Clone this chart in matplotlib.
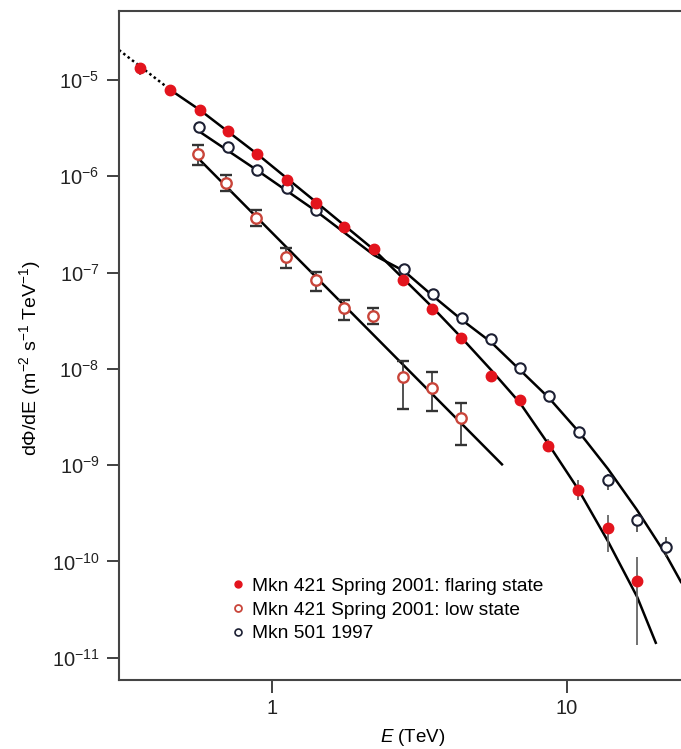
import matplotlib
matplotlib.use("Agg")
import matplotlib.pyplot as plt
from matplotlib.lines import Line2D

plt.rcParams['font.family'] = ['Liberation Sans', 'DejaVu Sans']
plt.rcParams['mathtext.fontset'] = 'custom'
plt.rcParams['mathtext.rm'] = 'Liberation Sans'
plt.rcParams['mathtext.it'] = 'Liberation Sans:italic'

# Mkn 421 flaring state (filled red)
flare_E = [0.357, 0.451, 0.570, 0.710, 0.89, 1.125, 1.41, 1.75, 2.22, 2.78, 3.49, 4.37, 5.52, 6.93, 8.62, 10.9, 13.8, 17.3]
flare_F = [1.33e-5, 7.9e-6, 4.9e-6, 2.95e-6, 1.7e-6, 9.1e-7, 5.3e-7, 2.96e-7, 1.77e-7, 8.3e-8, 4.2e-8, 2.1e-8,
           8.5e-9, 4.8e-9, 1.6e-9, 5.5e-10, 2.2e-10, 6.3e-11]
flare_lo = [1.13e-5, 0, 0, 0, 0, 0, 0, 0, 0, 0, 0, 0, 0, 0, 1.4e-9, 4.35e-10, 1.26e-10, 1.36e-11]
flare_hi = [1.50e-5, 0, 0, 0, 0, 0, 0, 0, 0, 0, 0, 0, 0, 0, 1.85e-9, 7.0e-10, 3.04e-10, 1.11e-10]

# Mkn 421 low state (open red)
low_E = [0.56, 0.70, 0.88, 1.115, 1.41, 1.75, 2.2, 2.78, 3.49, 4.37]
low_F = [1.71e-6, 8.5e-7, 3.69e-7, 1.45e-7, 8.4e-8, 4.29e-8, 3.54e-8, 8.24e-9, 6.34e-9, 3.09e-9]
low_lo = [1.31e-6, 7.03e-7, 3.05e-7, 1.12e-7, 6.44e-8, 3.22e-8, 2.92e-8, 3.84e-9, 3.66e-9, 1.62e-9]
low_hi = [2.11e-6, 1.03e-6, 4.47e-7, 1.80e-7, 1.01e-7, 5.19e-8, 4.29e-8, 1.21e-8, 9.29e-9, 4.43e-9]

# Mkn 501 1997 (open black)
m501_E = [0.566, 0.71, 0.89, 1.125, 1.41, 2.80, 3.51, 4.41, 5.52, 6.93, 8.66, 11.0, 13.8, 17.3, 21.7]
m501_F = [3.25e-6, 2.01e-6, 1.16e-6, 7.56e-7, 4.47e-7, 1.09e-7, 6.0e-8, 3.38e-8, 2.04e-8, 1.02e-8,
          5.23e-9, 2.21e-9, 7.0e-10, 2.7e-10, 1.42e-10]
m501_lo = [0, 0, 0, 0, 0, 0, 0, 0, 0, 0, 0, 0, 5.5e-10, 2.02e-10, 1.11e-10]
m501_hi = [0, 0, 0, 0, 0, 0, 0, 0, 0, 0, 0, 0, 8.1e-10, 3.11e-10, 1.80e-10]

# fitted spectra, points
flare_fit_dot_E = [0.303, 0.458]
flare_fit_dot_F = [2.05e-5, 7.7e-6]
flare_fit_E = [0.458, 0.570, 0.890, 1.41, 2.22, 3.49, 4.37, 5.53, 6.93, 8.69, 10.9, 13.8, 17.3, 20.0]
flare_fit_F = [7.7e-6, 4.88e-6, 1.71e-6, 5.41e-7, 1.72e-7, 4.40e-8, 2.14e-8, 9.75e-9, 4.43e-9, 1.62e-9,
               5.66e-10, 1.60e-10, 4.27e-11, 1.43e-11]
low_fit_E = [0.561, 6.02]
low_fit_F = [1.55e-6, 1.02e-9]
m501_fit_E = [0.557, 0.889, 1.41, 2.217, 2.802, 3.513, 4.407, 5.526, 6.929, 8.69, 10.98, 13.77, 17.27, 21.66, 24.35]
m501_fit_F = [3.03e-6, 1.16e-6, 4.36e-7, 1.52e-7, 1.04e-7, 5.72e-8, 3.22e-8, 1.90e-8, 9.75e-9, 4.99e-9,
              2.21e-9, 9.14e-10, 3.43e-10, 1.17e-10, 6.12e-11]

labels = ['Mkn 421 Spring 2001: flaring state', 'Mkn 421 Spring 2001: low state', 'Mkn 501 1997']

red = '#e3141d'
red_open = '#c9453a'
navy = '#1c1f33'


def err(F, lo, hi):
    down = [f - l if l > 0 else 0 for f, l in zip(F, lo)]
    up = [h - f if h > 0 else 0 for f, h in zip(F, hi)]
    return [down, up]


fig = plt.figure(figsize=(6.81, 7.49), dpi=100)
ax = fig.add_axes([0.1747, 0.0921, 0.8253, 0.8932])

# fit lines
ax.plot(flare_fit_dot_E, flare_fit_dot_F, color='black', lw=1.8, ls=(0, (1, 1.2)), zorder=2)
ax.plot(flare_fit_E, flare_fit_F, color='black', lw=1.8, zorder=2)
ax.plot(low_fit_E, low_fit_F, color='black', lw=1.8, zorder=2)
ax.plot(m501_fit_E, m501_fit_F, color='black', lw=1.8, zorder=2)

# data
ax.errorbar(low_E, low_F, yerr=err(low_F, low_lo, low_hi), fmt='o', ms=7.5, mfc='white', mec=red_open, mew=1.7,
            ecolor='#333333', elinewidth=1.2, capsize=4, capthick=1.2, zorder=3)
ax.errorbar(m501_E, m501_F, yerr=err(m501_F, m501_lo, m501_hi), fmt='o', ms=7.5, mfc='white', mec=navy, mew=1.5,
            ecolor='#444444', elinewidth=1.2, capsize=0, zorder=3)
ax.errorbar(flare_E, flare_F, yerr=err(flare_F, flare_lo, flare_hi), fmt='o', ms=7.5, mfc=red, mec=red, mew=1,
            ecolor='#666666', elinewidth=1.3, capsize=0, zorder=4)

ax.set_xscale('log')
ax.set_yscale('log')
ax.set_xlim(0.303, 24.35)
ax.set_ylim(5.87e-12, 5.21e-5)

ax.set_xticks([1, 10])
ax.set_xticklabels(['1', '10'])
ax.set_yticks([1e-5, 1e-6, 1e-7, 1e-8, 1e-9, 1e-10, 1e-11])
ax.set_yticklabels(['$10^{-%d}$' % k for k in range(5, 12)])
ax.minorticks_off()
ax.tick_params(axis='both', which='major', direction='out', length=9, width=1.3, labelsize=14.5, colors='#333333',
               labelcolor='#222222', pad=5)
for s in ['left', 'top', 'bottom']:
    ax.spines[s].set_linewidth(1.5)
    ax.spines[s].set_color('#444444')
ax.spines['right'].set_visible(False)

ax.set_xlabel('$\\it{E}$ (TeV)', fontsize=13.5)
ax.xaxis.set_label_coords(0.523, -0.07)
ax.set_ylabel('d\u03a6/dE (m$^{-2}$ s$^{-1}$ TeV$^{-1}$)', fontsize=14)
ax.yaxis.set_label_coords(-0.135, 0.482)

handles = [
    Line2D([], [], ls='none', marker='o', ms=5, mfc=red, mec=red),
    Line2D([], [], ls='none', marker='o', ms=5, mfc='white', mec=red_open, mew=1.3),
    Line2D([], [], ls='none', marker='o', ms=5, mfc='white', mec=navy, mew=1.2),
]
ax.legend(handles, labels, loc='lower left', bbox_to_anchor=(0.185, 0.045), frameon=False, handlelength=0.8,
          handletextpad=0.3, labelspacing=0.33, borderaxespad=0, prop={'size': 13.8})

fig.savefig('out.png', dpi=100)
